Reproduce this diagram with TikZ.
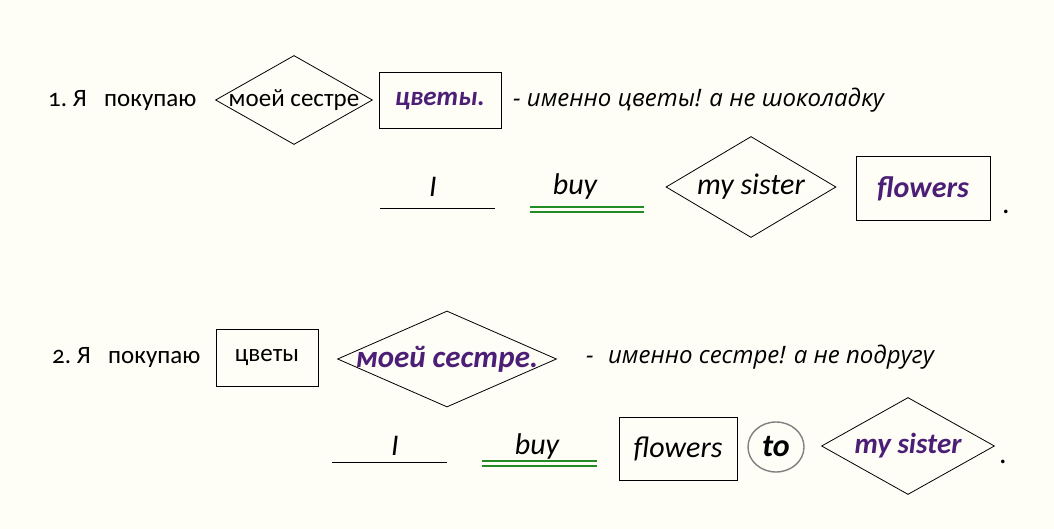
\documentclass[tikz,border=0pt]{standalone}
\usepackage{fontspec}
\setmainfont{Carlito}[Numbers=OldStyle]
\newfontfamily\notefont{Open Sans}
\usetikzlibrary{shapes.geometric}
\definecolor{bgcol}{RGB}{254,254,247}
\definecolor{objpurple}{RGB}{76,30,118}
\definecolor{predgreen}{RGB}{34,139,34}
\tikzset{
  rutext/.style={font=\fontsize{25}{30}\selectfont},
  entext/.style={font=\fontsize{30}{36}\selectfont\itshape},
  note/.style={font=\notefont\itshape\fontsize{24}{28}\selectfont},
  keyword/.style={text=objpurple, font=\fontsize{30}{36}\selectfont\bfseries\itshape},
  wordbox/.style={draw, line width=1pt, rectangle},
  dmd/.style={draw, diamond, line width=0.8pt},
  subjline/.style={line width=0.9pt},
  predline/.style={draw=predgreen, line width=1.1pt}
}
\begin{document}
\begin{tikzpicture}[x=1pt,y=1pt]
    \tikzstyle{every node}+=[inner sep=0pt]
    \useasboundingbox (0,0) rectangle (1054,-529);
    \fill [bgcol] (0,0) rectangle (1054,-529);
    % sentence 1
    \node [rutext, anchor=west] (ru1) at (48,-100) {1.~Я\hspace{0.7em}покупаю};
    \node [dmd, minimum width=157, minimum height=89] (dobj1) at (294,-100) {};
    \node [rutext] (dobj1txt) at (dobj1) {моей сестре};
    \node [wordbox, minimum width=122, minimum height=56, keyword, font=\fontsize{27}{32}\selectfont\bfseries\itshape] (obj1) at (440,-101) {цветы.};
    \node [note, anchor=west] (note1) at (513,-100) {-~именно цветы! а не шоколадку};
    % translation 1
    \node [entext] (subj1) at (433,-187) {I};
    \coordinate (subj1a) at (380,-208);
    \coordinate (subj1b) at (495,-208);
    \draw [subjline] (subj1a) -- (subj1b);
    \node [entext] (pred1) at (575,-187) {buy};
    \coordinate (pred1a) at (530,-207);
    \coordinate (pred1b) at (644,-207);
    \draw [predline] (pred1a) -- (pred1b);
    \draw [predline] ([yshift=-5]pred1a) -- ([yshift=-5]pred1b);
    \node [dmd, minimum width=170, minimum height=101] (dobj2) at (751,-187) {};
    \node [entext] (dobj2txt) at (dobj2) {my sister};
    \node [wordbox, minimum width=134, minimum height=64, keyword] (obj2) at (923,-189) {flowers};
    \node [entext, font=\fontsize{30}{36}\selectfont] (dot1) at (1006,-212) {.};
    % sentence 2
    \node [rutext, anchor=west] (ru2) at (52,-357) {2.~Я\hspace{0.7em}покупаю};
    \node [wordbox, rutext, minimum width=102, minimum height=57] (obj3) at (267,-357.5) {цветы};
    \node [dmd, minimum width=219, minimum height=96] (dobj3) at (447,-359) {};
    \node [keyword, font=\fontsize{31}{36}\selectfont\bfseries\itshape] (dobj3txt) at (dobj3) {моей сестре.};
    \node [note, anchor=west] (note2) at (586,-357) {-\hspace{0.6em}именно сестре! а не подругу};
    % translation 2
    \node [entext] (subj2) at (395,-446) {I};
    \coordinate (subj2a) at (332,-462);
    \coordinate (subj2b) at (447,-462);
    \draw [subjline] (subj2a) -- (subj2b);
    \node [entext] (pred2) at (537,-446) {buy};
    \coordinate (pred2a) at (482,-461);
    \coordinate (pred2b) at (597,-461);
    \draw [predline] (pred2a) -- (pred2b);
    \draw [predline] ([yshift=-5]pred2a) -- ([yshift=-5]pred2b);
    \node [wordbox, entext, minimum width=118, minimum height=63] (obj4) at (678,-448.5) {flowers};
    \node [draw=gray, line width=1.4pt, ellipse, minimum width=56, minimum height=50, font=\fontsize{32}{36}\selectfont\bfseries\itshape] (prep) at (776,-447) {to};
    \node [dmd, minimum width=173, minimum height=97] (dobj4) at (908,-446) {};
    \node [keyword, font=\fontsize{29}{34}\selectfont\bfseries\itshape] (dobj4txt) at (dobj4) {my sister};
    \node [entext, font=\fontsize{30}{36}\selectfont] (dot2) at (1003,-462) {.};
\end{tikzpicture}
\end{document}
